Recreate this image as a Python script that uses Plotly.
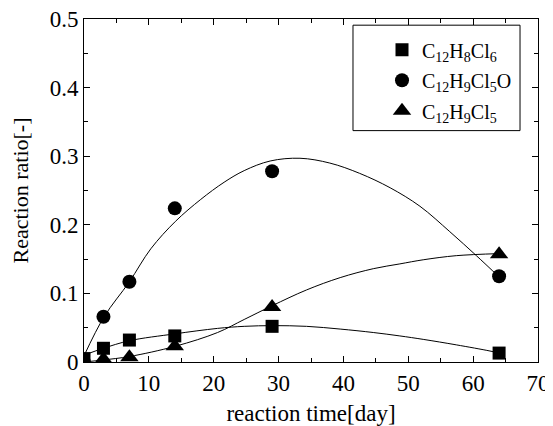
import plotly.graph_objects as go

# measured data points
days = [0, 3, 7, 14, 29, 64]
c12h8cl6 = [0.005, 0.020, 0.032, 0.038, 0.052, 0.013]
c12h9cl5o = [0.0, 0.066, 0.117, 0.224, 0.278, 0.125]
c12h9cl5 = [0.0, 0.004, 0.007, 0.023, 0.080, 0.157]

# fitted curves
fit_x_sq = [0, 3, 7, 14, 20.6, 24.7, 29.2, 34.3, 39.5, 44.6, 48.7, 52.3, 57.4, 62.6, 64]
fit_y_sq = [0.010, 0.020, 0.031, 0.041, 0.049, 0.052, 0.053, 0.052, 0.048, 0.043, 0.038, 0.033, 0.025, 0.016, 0.013]
fit_x_ci = [0, 3.1, 7.0, 10.3, 14.1, 18, 21.6, 24.7, 28.7, 33.3, 37.9, 42.5, 47.2, 51.8, 56.4, 60.5, 64]
fit_y_ci = [0.009, 0.066, 0.117, 0.165, 0.205, 0.237, 0.262, 0.279, 0.293, 0.297, 0.290, 0.275, 0.254, 0.227, 0.190, 0.155, 0.124]
fit_x_tr = [0, 3, 7, 14.1, 20.6, 24.7, 29, 34.3, 39.5, 44.6, 48.7, 52.3, 57.4, 64]
fit_y_tr = [0.0, 0.003, 0.008, 0.023, 0.043, 0.062, 0.082, 0.105, 0.123, 0.136, 0.143, 0.149, 0.155, 0.158]

names = ["C<sub>12</sub>H<sub>8</sub>Cl<sub>6</sub>",
         "C<sub>12</sub>H<sub>9</sub>Cl<sub>5</sub>O",
         "C<sub>12</sub>H<sub>9</sub>Cl<sub>5</sub>"]
symbols = ["square", "circle", "triangle-up"]
sizes = [13, 14, 16]
series = [c12h8cl6, c12h9cl5o, c12h9cl5]
fits = [(fit_x_sq, fit_y_sq), (fit_x_ci, fit_y_ci), (fit_x_tr, fit_y_tr)]

FONT = "Liberation Serif"
fig = go.Figure()

for fx, fy in fits:
    fig.add_trace(go.Scatter(x=fx, y=fy, mode="lines",
                             line=dict(color="black", width=1, shape="spline", smoothing=1.0),
                             showlegend=False, hoverinfo="skip"))

for i, (ys, nm, sym, sz) in enumerate(zip(series, names, symbols, sizes)):
    fig.add_trace(go.Scatter(x=days, y=ys, mode="markers", name=nm, legendgroup=f"g{i}",
                             marker=dict(symbol=sym, size=sz, color="black")))

axis_common = dict(showline=True, linecolor="black", linewidth=1, mirror="allticks",
                   ticks="inside", ticklen=6, tickcolor="black", showgrid=False,
                   zeroline=False, automargin=False, ticklabeloverflow="allow",
                   tickfont=dict(family=FONT, size=23, color="black"))

fig.update_xaxes(range=[0, 70], dtick=10, tick0=0,
                 minor=dict(ticks="inside", ticklen=4, dtick=5, tickcolor="black"),
                 title=dict(text="reaction time[day]", font=dict(family=FONT, size=23, color="black"), standoff=14),
                 **axis_common)
fig.update_yaxes(range=[0, 0.5], dtick=0.1, tick0=0,
                 minor=dict(ticks="inside", ticklen=4, dtick=0.05, tickcolor="black"),
                 tickformat="~g",
                 title=dict(text="Reaction ratio[-]", font=dict(family=FONT, size=22, color="black"), standoff=22),
                 **axis_common)

# legend frame
fig.add_shape(type="rect", xref="paper", yref="paper",
              x0=0.5925, x1=0.9604, y0=0.6746, y1=0.982,
              line=dict(color="black", width=1), fillcolor="white", layer="below")

fig.update_layout(
    width=545, height=418,
    margin=dict(l=76, r=15, t=11, b=64),
    paper_bgcolor="white", plot_bgcolor="white",
    font=dict(family=FONT, color="black"),
    legend=dict(x=0.6564, y=0.967, xanchor="left", yanchor="top",
                borderwidth=0, bgcolor="rgba(0,0,0,0)",
                font=dict(family=FONT, size=20, color="black"),
                itemwidth=30, tracegroupgap=1.5),
)

fig.write_html("out.html")
